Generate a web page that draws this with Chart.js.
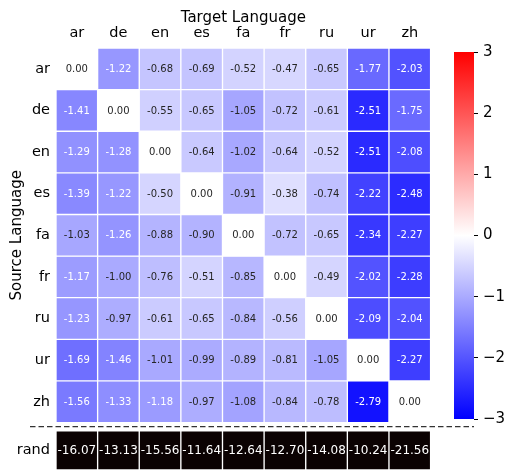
<!DOCTYPE html>
<html>
<head>
<meta charset="utf-8">
<script src="https://cdn.jsdelivr.net/npm/chart.js@4/dist/chart.umd.min.js"></script>
<style>
  body { margin: 0; background: #fff; }
  #wrap { position: relative; width: 506px; height: 471px; }
  #main { position: absolute; left: 0; top: 0; }
  #cbar { position: absolute; left: 440px; top: 38px; }
</style>
</head>
<body>
<div id="wrap">
  <canvas id="main" width="506" height="471"></canvas>
  <canvas id="cbar" width="66" height="395"></canvas>
</div>
<script>
const targetLangs = ['ar', 'de', 'en', 'es', 'fa', 'fr', 'ru', 'ur', 'zh'];
const sourceLangs = ['ar', 'de', 'en', 'es', 'fa', 'fr', 'ru', 'ur', 'zh'];
const rowAr = [0.00, -1.22, -0.68, -0.69, -0.52, -0.47, -0.65, -1.77, -2.03];
const rowDe = [-1.41, 0.00, -0.55, -0.65, -1.05, -0.72, -0.61, -2.51, -1.75];
const rowEn = [-1.29, -1.28, 0.00, -0.64, -1.02, -0.64, -0.52, -2.51, -2.08];
const rowEs = [-1.39, -1.22, -0.50, 0.00, -0.91, -0.38, -0.74, -2.22, -2.48];
const rowFa = [-1.03, -1.26, -0.88, -0.90, 0.00, -0.72, -0.65, -2.34, -2.27];
const rowFr = [-1.17, -1.00, -0.76, -0.51, -0.85, 0.00, -0.49, -2.02, -2.28];
const rowRu = [-1.23, -0.97, -0.61, -0.65, -0.84, -0.56, 0.00, -2.09, -2.04];
const rowUr = [-1.69, -1.46, -1.01, -0.99, -0.89, -0.81, -1.05, 0.00, -2.27];
const rowZh = [-1.56, -1.33, -1.18, -0.97, -1.08, -0.84, -0.78, -2.79, 0.00];
const randRow = [-16.07, -13.13, -15.56, -11.64, -12.64, -12.70, -14.08, -10.24, -21.56];
const colorbarTicks = [-3, -2, -1, 0, 1, 2, 3];

const rows = [rowAr, rowDe, rowEn, rowEs, rowFa, rowFr, rowRu, rowUr, rowZh];
const FONT = "'DejaVu Sans', sans-serif";
const RAND_TOP = 8.7, RAND_BOT = 9.64;

// bwr colormap, vmin -3, vmax 3
function bwr(v) {
    const t = Math.max(-1, Math.min(1, v / 3));
    let r, g, b;
    if (t <= 0) { r = g = 1 + t; b = 1; }
    else { r = 1; g = b = 1 - t; }
    return [r, g, b];
}
function rgbStr(c) {
    return 'rgb(' + c.map(x => Math.round(x * 255)).join(',') + ')';
}
function lum(c) {
    const lin = c.map(x => x <= 0.03928 ? x / 12.92 : Math.pow((x + 0.055) / 1.055, 2.4));
    return 0.2126 * lin[0] + 0.7152 * lin[1] + 0.0722 * lin[2];
}

const datasets = rows.map((vals, i) => ({
    label: sourceLangs[i],
    data: vals.map(() => [i - 0.5, i + 0.5]),
    values: vals,
    backgroundColor: vals.map(v => rgbStr(bwr(v))),
    textColor: vals.map(v => lum(bwr(v)) < 0.408 ? '#ffffff' : '#262626'),
    fontSize: 10
}));
datasets.push({
    label: 'rand',
    data: randRow.map(() => [RAND_TOP, RAND_BOT]),
    values: randRow,
    backgroundColor: randRow.map(() => '#0b0202'),
    textColor: randRow.map(() => '#ffffff'),
    fontSize: 12
});

const cellLabels = {
    id: 'cellLabels',
    afterDatasetsDraw(chart) {
        const ctx = chart.ctx;
        ctx.save();
        ctx.textAlign = 'center';
        ctx.textBaseline = 'middle';
        chart.data.datasets.forEach((ds, i) => {
            const meta = chart.getDatasetMeta(i);
            ctx.font = ds.fontSize + 'px ' + FONT;
            meta.data.forEach((el, j) => {
                const p = el.getCenterPoint();
                ctx.fillStyle = ds.textColor[j];
                ctx.fillText(ds.values[j].toFixed(2), p.x, p.y + 0.5);
            });
        });
        // dashed separator
        const y = chart.scales.y.getPixelForValue(8.6);
        ctx.strokeStyle = '#333333';
        ctx.lineWidth = 1.3;
        ctx.setLineDash([5.5, 3]);
        ctx.beginPath();
        ctx.moveTo(30, y);
        ctx.lineTo(474, y);
        ctx.stroke();
        ctx.setLineDash([]);
        // y title centered on the heatmap rows
        const yc = (chart.scales.y.getPixelForValue(-0.5) + chart.scales.y.getPixelForValue(8.5)) / 2;
        ctx.translate(17, yc);
        ctx.rotate(-Math.PI / 2);
        ctx.fillStyle = '#000';
        ctx.font = '15px ' + FONT;
        ctx.fillText('Source Language', 0, 0);
        ctx.restore();
    }
};

new Chart(document.getElementById('main'), {
    type: 'bar',
    data: { labels: targetLangs, datasets: datasets },
    options: {
        responsive: false,
        animation: false,
        layout: { padding: { left: 0, right: 75.4, top: 0, bottom: 1 } },
        datasets: {
            bar: {
                grouped: false,
                barPercentage: 1,
                categoryPercentage: 1,
                borderWidth: 1,
                borderColor: '#ffffff',
                borderSkipped: false
            }
        },
        plugins: { legend: { display: false }, tooltip: { enabled: false } },
        scales: {
            x: {
                position: 'top',
                grid: { display: false, drawTicks: false },
                border: { display: false },
                ticks: { color: '#000', font: { family: FONT, size: 14.5 }, padding: 6 },
                title: { display: true, text: 'Target Language', color: '#000', font: { family: FONT, size: 15 }, padding: { top: 9, bottom: 0 } },
                afterFit(scale) { scale.height = 48; scale.paddingLeft = 0; scale.paddingRight = 0; }
            },
            y: {
                type: 'linear',
                reverse: true,
                min: -0.5,
                max: RAND_BOT,
                grid: { display: false, drawTicks: false },
                border: { display: false },
                afterBuildTicks(scale) {
                    scale.ticks = sourceLangs.map((s, i) => ({ value: i })).concat([{ value: (RAND_TOP + RAND_BOT) / 2 }]);
                },
                ticks: {
                    color: '#000',
                    font: { family: FONT, size: 14.5 },
                    padding: 6,
                    autoSkip: false,
                    callback: (v, i) => i < sourceLangs.length ? sourceLangs[i] : 'rand'
                },
                afterFit(scale) { scale.width = 56; scale.paddingTop = 0; scale.paddingBottom = 0; }
            }
        }
    },
    plugins: [cellLabels]
});

// colorbar
new Chart(document.getElementById('cbar'), {
    type: 'bar',
    data: {
        labels: ['cb'],
        datasets: [{
            data: [[colorbarTicks[0], colorbarTicks[colorbarTicks.length - 1]]],
            barPercentage: 1,
            categoryPercentage: 1,
            borderWidth: 0,
            backgroundColor(context) {
                const { ctx, chartArea } = context.chart;
                if (!chartArea) return '#fff';
                const g = ctx.createLinearGradient(0, chartArea.bottom, 0, chartArea.top);
                g.addColorStop(0, 'rgb(0,0,255)');
                g.addColorStop(0.5, 'rgb(255,255,255)');
                g.addColorStop(1, 'rgb(255,0,0)');
                return g;
            }
        }]
    },
    options: {
        responsive: false,
        animation: false,
        layout: { padding: { left: 14, top: 10, bottom: 10, right: 0 } },
        plugins: { legend: { display: false }, tooltip: { enabled: false } },
        scales: {
            x: { display: false },
            y: {
                position: 'right',
                min: -3,
                max: 3,
                border: { display: false },
                grid: { drawOnChartArea: false, drawTicks: true, tickLength: 4, tickColor: '#000', tickWidth: 1 },
                afterBuildTicks(scale) { scale.ticks = colorbarTicks.map(v => ({ value: v })); },
                ticks: {
                    color: '#000',
                    padding: 5,
                    font: { family: FONT, size: 15 },
                    callback: v => String(v).replace('-', '\u2212')
                },
                afterFit(scale) { scale.width = 32; }
            }
        }
    }
});
</script>
</body>
</html>
